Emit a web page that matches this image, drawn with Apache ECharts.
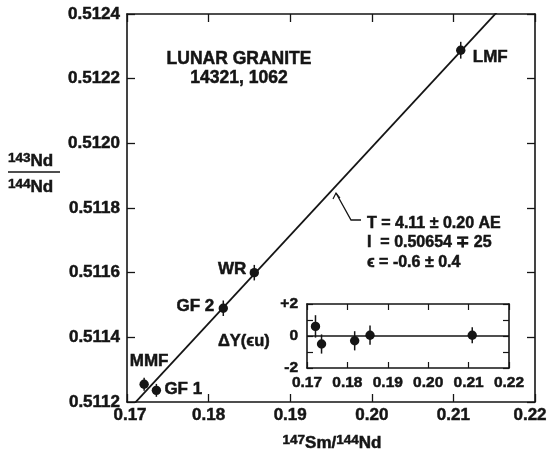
<!DOCTYPE html>
<html>
<head>
<meta charset="utf-8">
<script src="https://cdn.jsdelivr.net/npm/echarts@6/dist/echarts.min.js"></script>
<style>
  html, body { margin: 0; padding: 0; background: #fff; }
  #main { width: 551px; height: 450px; }
</style>
</head>
<body>
<div id="main"></div>
<script>
// samples
var sampleNames = ["MMF", "GF 1", "GF 2", "WR", "LMF"];
var smNd = [0.1721, 0.1736, 0.1818, 0.1856, 0.2109];      // 147Sm/144Nd
var ndNd = [0.511255, 0.511236, 0.51149, 0.51160, 0.512288]; // 143Nd/144Nd
var smErr = [0.0004, 0.0004, 0.0004, 0.0004, 0.0004];
var ndErr = [0.00002, 0.00002, 0.000024, 0.000024, 0.000026];
// residuals in epsilon units (inset)
var residuals = [0.6, -0.5, -0.3, 0.05, 0.05];
var residualErr = [0.7, 0.6, 0.6, 0.6, 0.5];
// isochron fit
var isoIntercept = 0.50654;
var isoSlope = 0.02724;
var fitX = [0.17, 0.22];
// tick labels
var insetYLabels = { "2": "+2", "0": "0", "-2": "-2" };

var FONT = "Liberation Sans";
var INK = "#151515";
var BOLDER = 0.5; // thin stroke round the glyphs, the original lettering is heavy

// where each sample's name sits, relative to its point
var labelPlace = {
  "MMF": [5, -23, "center"],
  "GF 1": [8, -1, "left"],
  "GF 2": [-9, -2, "right"],
  "WR": [-8, -3, "right"],
  "LMF": [12, 7, "left"]
};

function pointRenderer(withLabels) {
  return function (params, api) {
    var x = api.value(0), y = api.value(1), ex = api.value(2), ey = api.value(3);
    var c = api.coord([x, y]);
    var t = api.coord([x, y + ey]);
    var b = api.coord([x, y - ey]);
    var l = api.coord([x - ex, y]);
    var r = api.coord([x + ex, y]);
    var kids = [
      { type: "line", shape: { x1: t[0], y1: t[1], x2: b[0], y2: b[1] }, style: { stroke: INK, lineWidth: 1.5 } },
      { type: "line", shape: { x1: l[0], y1: l[1], x2: r[0], y2: r[1] }, style: { stroke: INK, lineWidth: 1.5 } },
      { type: "circle", shape: { cx: c[0], cy: c[1], r: 4.7 }, style: { fill: INK } }
    ];
    if (withLabels) {
      var name = sampleNames[params.dataIndex];
      var p = labelPlace[name];
      kids.push({
        type: "text",
        style: {
          text: name, x: c[0] + p[0], y: c[1] + p[1],
          align: p[2], verticalAlign: "middle",
          font: "bold 17px " + FONT, fill: INK, stroke: INK, lineWidth: BOLDER
        }
      });
    }
    return { type: "group", children: kids };
  };
}

var mainData = smNd.map(function (x, i) { return [x, ndNd[i], smErr[i], ndErr[i]]; });
var insetData = smNd.map(function (x, i) { return [x, residuals[i], 0, residualErr[i]]; });
var fitData = fitX.map(function (x) { return [x, isoIntercept + isoSlope * x]; });

var axisLineStyle = { show: true, onZero: false, lineStyle: { color: INK, width: 1.6 } };
var labelFont = { fontFamily: FONT, fontWeight: "bold", fontSize: 17, color: INK, textBorderColor: INK, textBorderWidth: BOLDER };
var insetFont = { fontFamily: FONT, fontWeight: "bold", fontSize: 15.5, color: INK, textBorderColor: INK, textBorderWidth: BOLDER };

// end labels of the main x axis sit a little inward, as in the original
var edgeRich = {
  lo: { fontFamily: FONT, fontWeight: "bold", fontSize: 17, color: INK, textBorderColor: INK, textBorderWidth: BOLDER, padding: [0, 0, 0, 6] },
  hi: { fontFamily: FONT, fontWeight: "bold", fontSize: 17, color: INK, textBorderColor: INK, textBorderWidth: BOLDER, padding: [0, 10, 0, 0] }
};

function txt(s, x, y, size, align) {
  return {
    type: "text", x: x, y: y,
    style: {
      text: s, font: "bold " + size + "px " + FONT, fill: INK, stroke: INK, lineWidth: BOLDER,
      align: align || "left", verticalAlign: "middle"
    }
  };
}

var isoRich = {
  s: { font: "bold 13.5px " + FONT, fill: INK, stroke: INK, lineWidth: BOLDER, padding: [0, 0, 6, 0] },
  n: { font: "bold 17px " + FONT, fill: INK, stroke: INK, lineWidth: BOLDER }
};

function isotope(mass, el, x, y) {
  return {
    type: "text", x: x, y: y,
    style: { text: "{s|" + mass + "}{n|" + el + "}", verticalAlign: "middle", rich: isoRich }
  };
}

var chartDom = document.getElementById("main");
var myChart = echarts.init(chartDom);
var option;

option = {
  backgroundColor: "#fff",
  animation: false,
  grid: [
    { left: 127, top: 14, right: 16, bottom: 48 },
    { left: 307, top: 304, width: 202, height: 64 }
  ],
  xAxis: [
    {
      gridIndex: 0, type: "value", min: 0.17, max: 0.22, interval: 0.01, position: "bottom",
      axisLine: axisLineStyle, splitLine: { show: false },
      axisTick: { inside: true, length: 8, lineStyle: { color: INK, width: 1.3 } },
      axisLabel: Object.assign({ margin: 5, showMinLabel: true, showMaxLabel: true, rich: edgeRich,
        formatter: function (v) {
          var s = v.toFixed(2);
          if (v <= fitX[0] + 1e-9) return "{lo|" + s + "}";
          if (v >= fitX[1] - 1e-9) return "{hi|" + s + "}";
          return s;
        } }, labelFont)
    },
    {
      gridIndex: 0, type: "value", min: 0.17, max: 0.22, interval: 0.01, position: "top",
      axisLine: axisLineStyle, splitLine: { show: false },
      axisTick: { inside: true, length: 8, lineStyle: { color: INK, width: 1.3 } },
      axisLabel: { show: false }
    },
    {
      gridIndex: 1, type: "value", min: 0.17, max: 0.22, interval: 0.01, position: "bottom",
      axisLine: axisLineStyle, splitLine: { show: false },
      axisTick: { inside: true, length: 6, lineStyle: { color: INK, width: 1.2 } },
      axisLabel: Object.assign({ margin: 7, showMinLabel: true, showMaxLabel: true,
        formatter: function (v) { return v.toFixed(2); } }, insetFont)
    },
    {
      gridIndex: 1, type: "value", min: 0.17, max: 0.22, interval: 0.01, position: "top",
      axisLine: axisLineStyle, splitLine: { show: false },
      axisTick: { inside: true, length: 6, lineStyle: { color: INK, width: 1.2 } },
      axisLabel: { show: false }
    }
  ],
  yAxis: [
    {
      gridIndex: 0, type: "value", min: 0.5112, max: 0.5124, interval: 0.0002, position: "left",
      axisLine: axisLineStyle, splitLine: { show: false },
      axisTick: { inside: true, length: 8, lineStyle: { color: INK, width: 1.3 } },
      axisLabel: Object.assign({ margin: 7, showMinLabel: true, showMaxLabel: true,
        formatter: function (v) { return v.toFixed(4); } }, labelFont)
    },
    {
      gridIndex: 0, type: "value", min: 0.5112, max: 0.5124, interval: 0.0002, position: "right",
      axisLine: axisLineStyle, splitLine: { show: false },
      axisTick: { inside: true, length: 8, lineStyle: { color: INK, width: 1.3 } },
      axisLabel: { show: false }
    },
    {
      gridIndex: 1, type: "value", min: -2, max: 2, interval: 1, position: "left",
      axisLine: axisLineStyle, splitLine: { show: false },
      axisTick: { inside: true, length: 6, lineStyle: { color: INK, width: 1.2 } },
      axisLabel: Object.assign({ margin: 9, showMinLabel: true, showMaxLabel: true,
        formatter: function (v) { return insetYLabels[String(v)] || ""; } }, insetFont)
    },
    {
      gridIndex: 1, type: "value", min: -2, max: 2, interval: 1, position: "right",
      axisLine: axisLineStyle, splitLine: { show: false },
      axisTick: { inside: true, length: 6, lineStyle: { color: INK, width: 1.2 } },
      axisLabel: { show: false }
    }
  ],
  series: [
    {
      name: "isochron", type: "line", xAxisIndex: 0, yAxisIndex: 0,
      data: fitData, symbol: "none", clip: true,
      lineStyle: { color: INK, width: 1.8 }, z: 2
    },
    {
      name: "samples", type: "custom", xAxisIndex: 0, yAxisIndex: 0,
      data: mainData, encode: { x: 0, y: 1 },
      renderItem: pointRenderer(true), z: 3
    },
    {
      name: "zero", type: "line", xAxisIndex: 2, yAxisIndex: 2,
      data: fitX.map(function (x) { return [x, 0]; }), symbol: "none",
      lineStyle: { color: INK, width: 1.4 }
    },
    {
      name: "residuals", type: "custom", xAxisIndex: 2, yAxisIndex: 2,
      data: insetData, encode: { x: 0, y: 1 },
      renderItem: pointRenderer(false), z: 3
    }
  ],
  graphic: [
    txt("LUNAR GRANITE", 239, 59, 17.5, "center"),
    txt("14321, 1062", 239, 78, 17.5, "center"),
    // leader from the isochron to the fit results
    { type: "polyline", shape: { points: [[336, 193], [351, 220], [361, 220]] }, style: { stroke: INK, lineWidth: 1.3, fill: null } },
    { type: "polyline", shape: { points: [[333, 199], [336, 193], [340, 198]] }, style: { stroke: INK, lineWidth: 1.2, fill: null } },
    txt("T = 4.11 \u00b1 0.20 AE", 367, 224, 16),
    txt("I  = 0.50654 \u2213 25", 367, 243, 16),
    txt("\u03f5 = -0.6 \u00b1 0.4", 367, 263, 16),
    txt("\u0394Y(\u03f5u)", 218, 341, 16.5),
    // y-axis name as a fraction
    isotope("143", "Nd", 8, 161),
    { type: "line", shape: { x1: 8, y1: 172, x2: 60, y2: 172 }, style: { stroke: INK, lineWidth: 1.6 } },
    isotope("144", "Nd", 8, 187),
    // x-axis name
    {
      type: "text", x: 332, y: 443,
      style: { text: "{s|147}{n|Sm/}{s|144}{n|Nd}", align: "center", verticalAlign: "middle", rich: isoRich }
    }
  ]
};

option && myChart.setOption(option);
</script>
</body>
</html>
